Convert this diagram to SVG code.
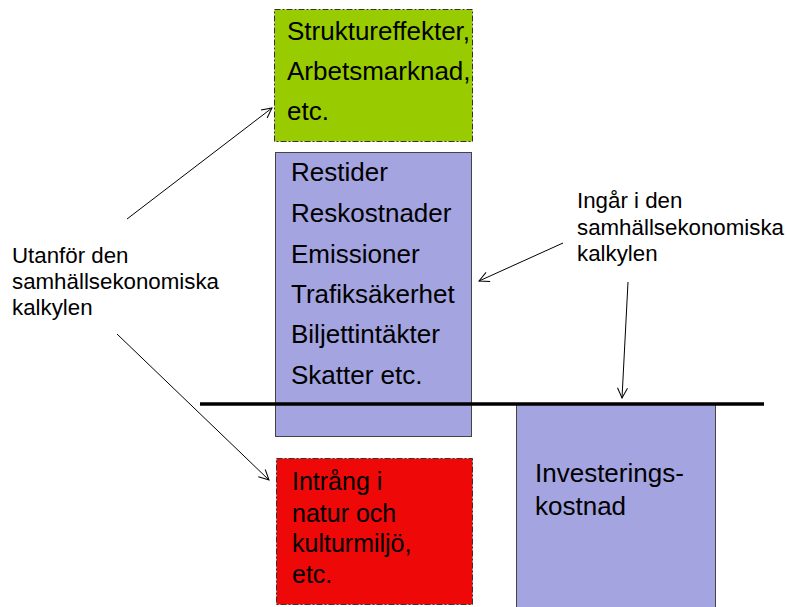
<svg xmlns="http://www.w3.org/2000/svg" width="787" height="607" viewBox="0 0 787 607">
<style>
.t{font-family:"Liberation Sans",Arial,sans-serif;fill:#000}
.big{font-size:26px}
.red{font-size:25px}
.lab{font-size:22.3px}
.dash{stroke:#333;stroke-width:1;stroke-dasharray:6 2 2 2}
.solid{stroke:#444;stroke-width:1}
.conn{stroke:#000;stroke-width:1;fill:none;marker-end:url(#arr)}
</style>
<defs>
<marker id="arr" viewBox="0 0 12 12" refX="11" refY="6" markerWidth="12" markerHeight="12" markerUnits="userSpaceOnUse" orient="auto">
<path d="M1,1 L11,6 L1,11" fill="none" stroke="#000" stroke-width="1"/>
</marker>
</defs>
<rect width="787" height="607" fill="#fff"/>
<g id="node-struktur">
<rect x="274.5" y="9.5" width="198" height="132" fill="#99cc00" class="dash"/>
<text class="t big" x="287" y="40">Struktureffekter,</text>
<text class="t big" x="287" y="80">Arbetsmarknad,</text>
<text class="t big" x="287" y="120">etc.</text>
</g>
<g id="node-effekter">
<rect x="275.5" y="152.5" width="196" height="284" fill="#a4a4e0" class="solid"/>
<text class="t big" x="291" y="181">Restider</text>
<text class="t big" x="291" y="222">Reskostnader</text>
<text class="t big" x="291" y="263">Emissioner</text>
<text class="t big" x="291" y="303">Trafiksäkerhet</text>
<text class="t big" x="291" y="343">Biljettintäkter</text>
<text class="t big" x="291" y="384">Skatter etc.</text>
</g>
<g id="node-intrang">
<rect x="276.5" y="458.5" width="196" height="146" fill="#ee0808" class="dash"/>
<text class="t red" x="292" y="490">Intrång i</text>
<text class="t red" x="292" y="522">natur och</text>
<text class="t red" x="292" y="552">kulturmiljö,</text>
<text class="t red" x="292" y="583">etc.</text>
</g>
<g id="node-investering">
<rect x="516.5" y="403.5" width="199" height="210" fill="#a4a4e0" class="solid"/>
<text class="t big" x="535" y="482">Investerings-</text>
<text class="t big" x="535" y="515">kostnad</text>
</g>
<g id="node-utanfor">
<text class="t lab" x="12" y="263">Utanför den</text>
<text class="t lab" x="12" y="289">samhällsekonomiska</text>
<text class="t lab" x="12" y="315">kalkylen</text>
</g>
<g id="node-ingar">
<text class="t lab" x="577" y="208">Ingår i den</text>
<text class="t lab" x="577" y="235">samhällsekonomiska</text>
<text class="t lab" x="577" y="261">kalkylen</text>
</g>
<g id="connectors">
<line x1="200" y1="404" x2="764" y2="404" stroke="#000" stroke-width="3.5"/>
<line class="conn" x1="127" y1="219" x2="272" y2="108"/>
<line class="conn" x1="117" y1="334" x2="269" y2="480"/>
<line class="conn" x1="563" y1="243" x2="479" y2="281"/>
<line class="conn" x1="628" y1="282" x2="622" y2="398"/>
</g>
</svg>
